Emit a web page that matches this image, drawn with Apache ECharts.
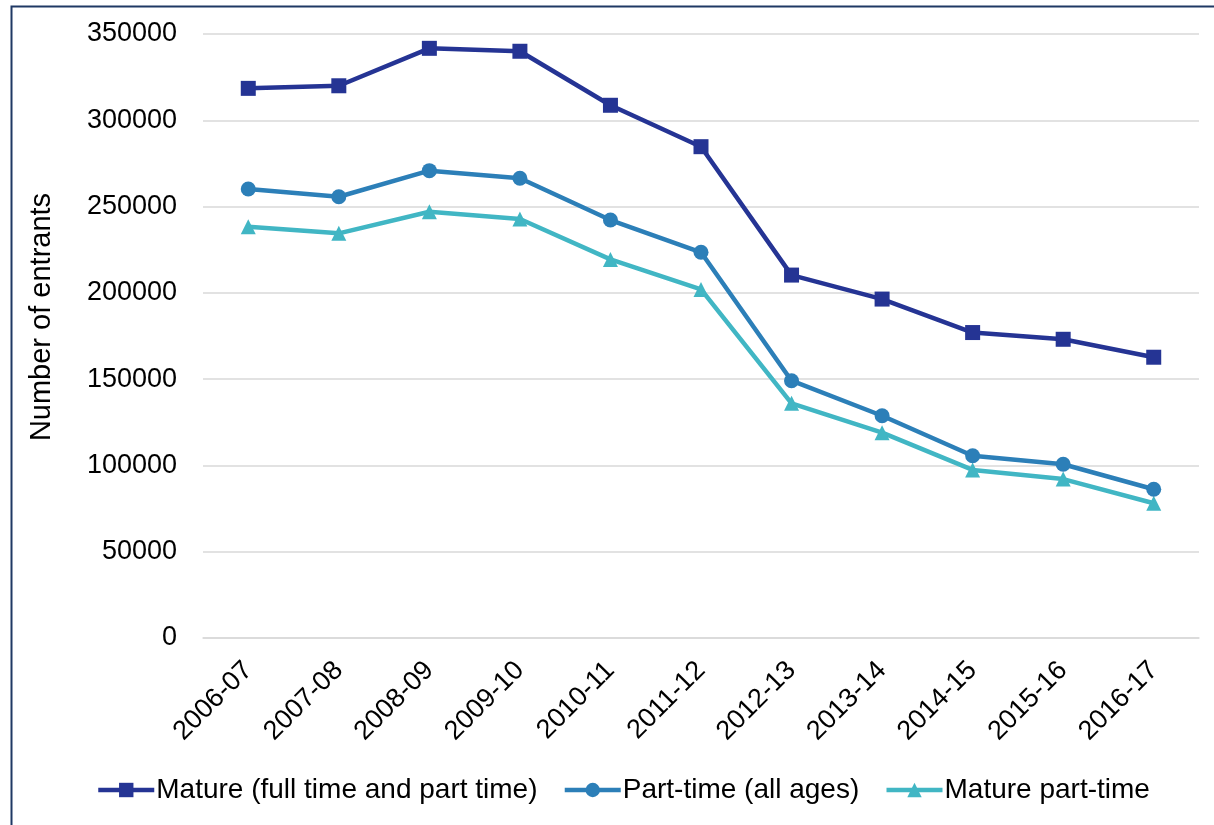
<!DOCTYPE html>
<html>
<head>
<meta charset="utf-8">
<style>
  html, body { margin: 0; padding: 0; background: #ffffff; }
  #chart { width: 1214px; height: 825px; }
</style>
<script src="https://cdn.jsdelivr.net/npm/echarts@6/dist/echarts.min.js"></script>
</head>
<body>
<div id="chart"></div>
<script>
// Academic years shown on the category axis
const years = ['2006-07', '2007-08', '2008-09', '2009-10', '2010-11', '2011-12',
               '2012-13', '2013-14', '2014-15', '2015-16', '2016-17'];

// Entrant counts per year
const matureAll = [318500, 320000, 341700, 340000, 308700, 284700,
                   210300, 196400, 177000, 173100, 162700];
const partTimeAllAges = [260200, 255700, 270800, 266400, 242200, 223500,
                         149100, 128800, 105600, 100700, 86200];
const maturePartTime = [238300, 234500, 247000, 242800, 219400, 202000,
                        136000, 119000, 97400, 92100, 78100];

const seriesNames = ['Mature (full time and part time)', 'Part-time (all ages)', 'Mature part-time'];
const yAxisTitle = 'Number of entrants';

const FONT = 'Liberation Sans, Arial, sans-serif';
const colors = ['#253494', '#2c7fb8', '#41b6c4'];
const symbols = ['rect', 'circle', 'triangle'];
const values = [matureAll, partTimeAllAges, maturePartTime];

const chart = echarts.init(document.getElementById('chart'), null, { renderer: 'canvas' });

chart.setOption({
  animation: false,
  backgroundColor: '#ffffff',
  color: colors,
  grid: { left: 203, right: 15, top: 34, bottom: 187, containLabel: false },
  xAxis: {
    type: 'category',
    data: years,
    boundaryGap: true,
    axisLine: { show: true, lineStyle: { color: '#d9d9d9', width: 1.5 } },
    axisTick: { show: false },
    axisLabel: {
      rotate: 45,
      margin: 28,
      interval: 0,
      color: '#000000',
      fontFamily: FONT,
      fontSize: 27
    }
  },
  yAxis: {
    type: 'value',
    min: 0,
    max: 350000,
    interval: 50000,
    axisLine: { show: false },
    axisTick: { show: false },
    splitLine: { lineStyle: { color: '#d9d9d9', width: 1.5 } },
    axisLabel: {
      margin: 26,
      color: '#000000',
      fontFamily: FONT,
      fontSize: 27,
      formatter: (v) => String(v)
    }
  },
  legend: {
    bottom: 16,
    left: 91,
    itemWidth: 56,
    itemHeight: 18,
    itemGap: 25,
    lineStyle: { width: 4.5 },
    textStyle: { color: '#000000', fontFamily: FONT, fontSize: 28, padding: [0, 0, 0, -3] },
    data: seriesNames
  },
  series: values.map((v, i) => ({
    name: seriesNames[i],
    type: 'line',
    data: v,
    symbol: symbols[i],
    symbolSize: 15,
    showSymbol: true,
    lineStyle: { width: 4.5, color: colors[i] },
    itemStyle: { color: colors[i] },
    z: 10 - i
  })),
  graphic: [
    {
      type: 'rect',
      left: 9,
      top: 4,
      shape: { width: 1230, height: 850 },
      style: { fill: 'none', stroke: '#1f3864', lineWidth: 2 },
      silent: true
    },
    {
      type: 'text',
      x: 42,
      y: 317,
      rotation: Math.PI / 2,
      style: {
        text: yAxisTitle,
        fill: '#000000',
        font: '29px ' + FONT,
        align: 'center',
        verticalAlign: 'middle'
      }
    }
  ]
});
</script>
</body>
</html>
